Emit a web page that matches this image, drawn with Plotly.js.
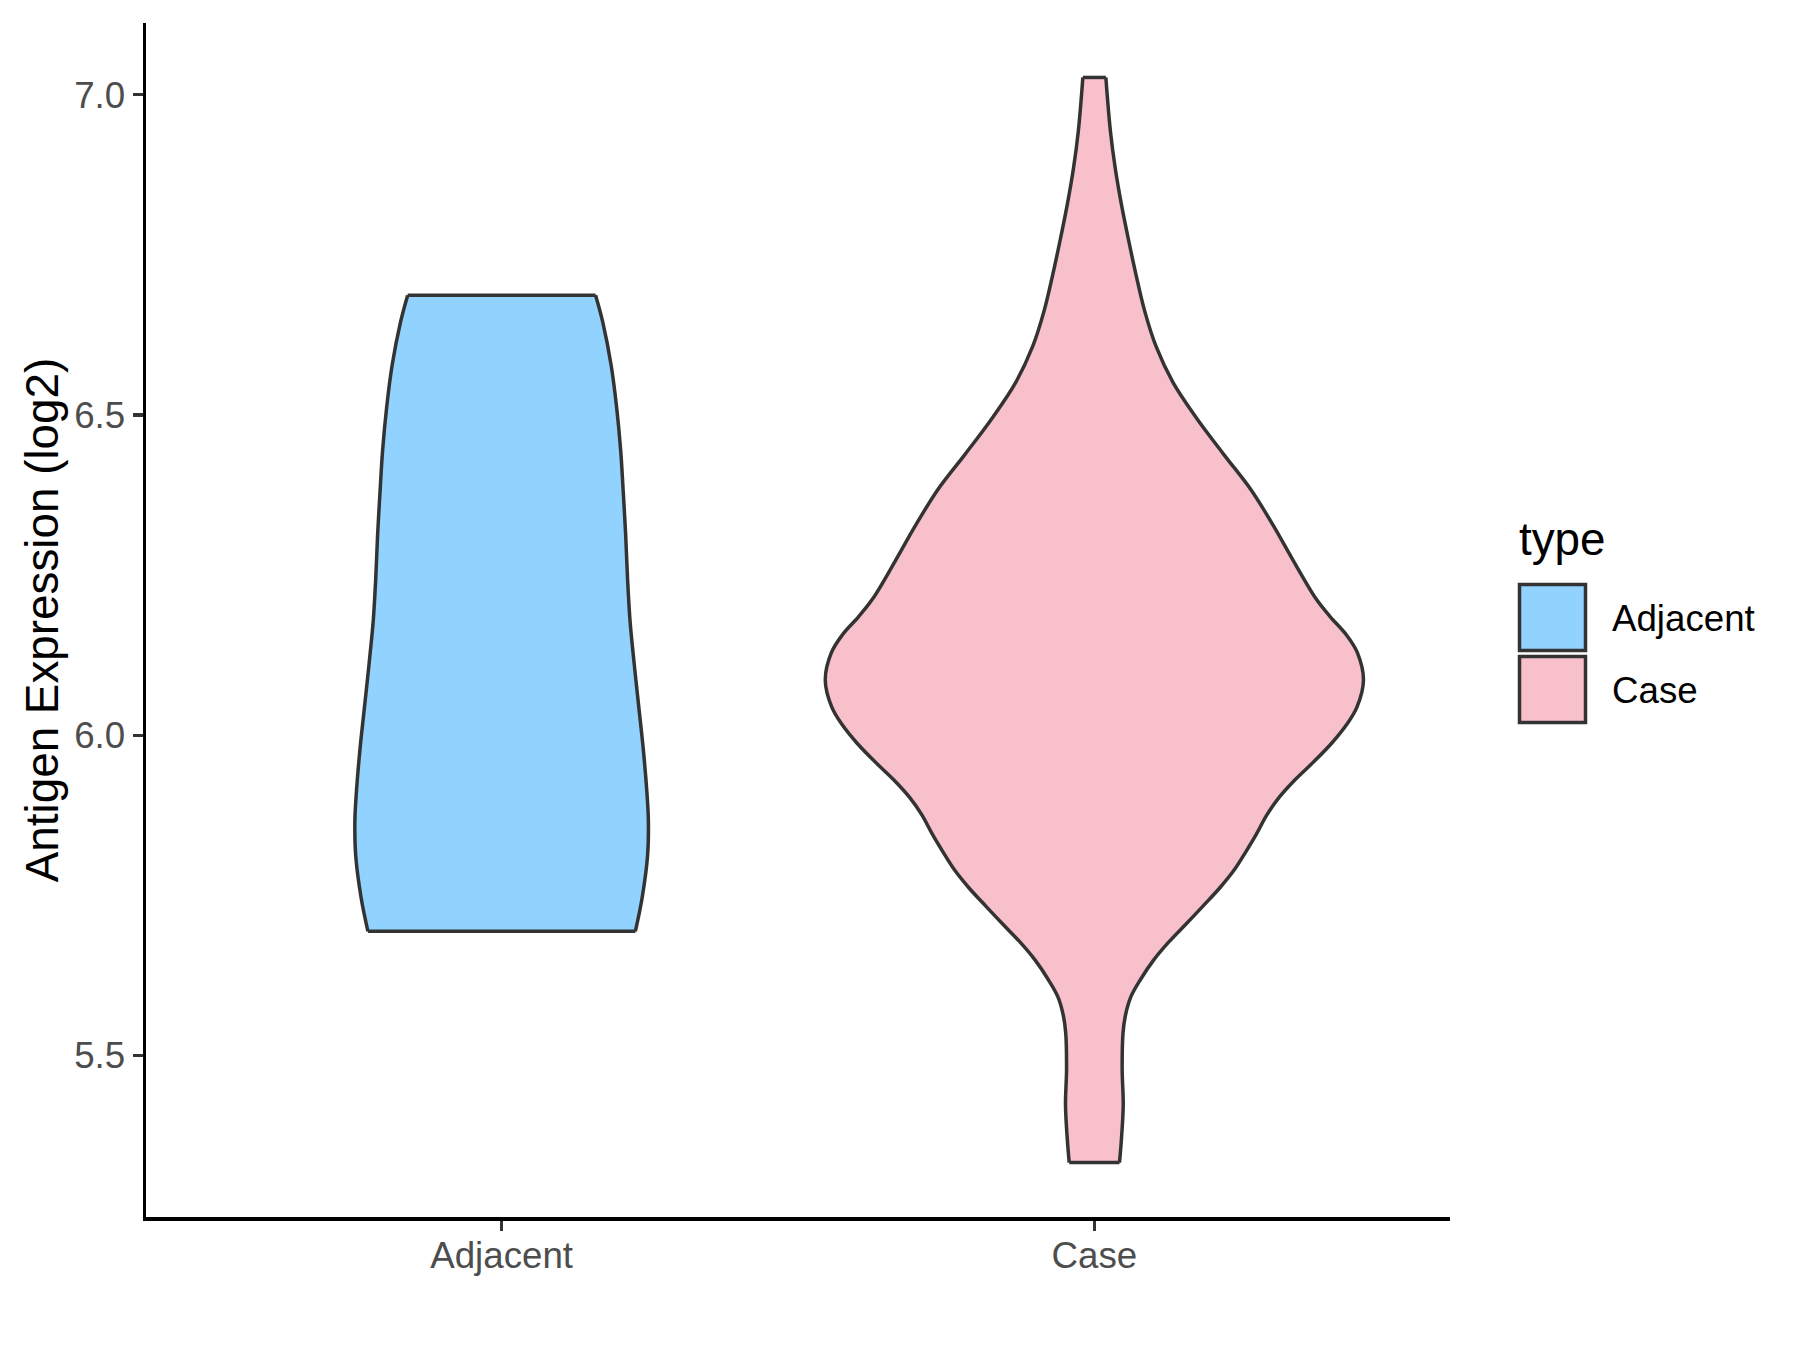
<!DOCTYPE html>
<html>
<head>
<meta charset="utf-8">
<script src="https://cdn.plot.ly/plotly-3.0.1.min.js"></script>
<style>html,body{margin:0;padding:0;background:#fff;}#chart{width:1800px;height:1350px;}</style>
</head>
<body>
<div id="chart"></div>
<script>
// Categories and colours
const categories = ["Adjacent", "Case"];
const fillColors = ["#92D2FE", "#F7C0CB"];

// Violin outline for "Adjacent": expression values (log2) and density half-widths (x units)
const adjacentY = [6.687, 6.645, 6.578, 6.512, 6.445, 6.378, 6.312, 6.245, 6.179, 6.112,
                   6.045, 5.979, 5.912, 5.866, 5.812, 5.746, 5.694];
const adjacentHalfWidth = [0.1585, 0.1706, 0.1847, 0.1940, 0.2008, 0.2053, 0.2093, 0.2124, 0.2166, 0.2236,
                           0.2313, 0.2389, 0.2450, 0.2476, 0.2462, 0.2370, 0.2256];

// Violin outline for "Case"
const caseY = [7.027, 6.998, 6.942, 6.886, 6.830, 6.774, 6.718, 6.663, 6.607, 6.551,
               6.495, 6.439, 6.383, 6.328, 6.272, 6.213, 6.185, 6.157, 6.129, 6.086,
               6.044, 6.016, 5.988, 5.959, 5.931, 5.903, 5.875, 5.846, 5.818, 5.790,
               5.762, 5.733, 5.705, 5.677, 5.649, 5.620, 5.592, 5.564, 5.536, 5.479,
               5.423, 5.366, 5.333];
const caseHalfWidth = [0.0194, 0.0218, 0.0272, 0.0351, 0.0454, 0.0575, 0.0705, 0.0847, 0.1041, 0.1326,
                       0.1725, 0.2179, 0.2645, 0.3015, 0.3360, 0.3740, 0.3980, 0.4250, 0.4437, 0.4540,
                       0.4430, 0.4250, 0.4007, 0.3705, 0.3390, 0.3117, 0.2905, 0.2736, 0.2555, 0.2361,
                       0.2118, 0.1828, 0.1543, 0.1253, 0.0999, 0.0787, 0.0617, 0.0527, 0.0484, 0.0469,
                       0.0487, 0.0454, 0.0424];

// Axis ticks
const yTickVals = [5.5, 6.0, 6.5, 7.0];
const yTickText = ["5.5", "6.0", "6.5", "7.0"];

const FONT = "Liberation Sans, Arial, Helvetica, sans-serif";
const EDGE = "#333333";
const LW = 3.5;

function violinTraces(center, ys, hws, color, name) {
  const n = ys.length;
  // filled body
  const fx = [], fy = [];
  for (let i = 0; i < n; i++) { fx.push(center + hws[i]); fy.push(ys[i]); }
  for (let i = n - 1; i >= 0; i--) { fx.push(center - hws[i]); fy.push(ys[i]); }
  const fill = {
    type: "scatter", mode: "lines", x: fx, y: fy, name: name,
    fill: "toself", fillcolor: color,
    line: {color: color, width: 0, shape: "linear"},
    hoverinfo: "skip", showlegend: false
  };
  // smooth sides
  const rx = ys.map((y, i) => center + hws[i]);
  const lx = ys.map((y, i) => center - hws[i]);
  const right = {type: "scatter", mode: "lines", x: rx, y: ys, line: {color: EDGE, width: LW, shape: "spline", smoothing: 1},
                 hoverinfo: "skip", showlegend: false};
  const left = {type: "scatter", mode: "lines", x: lx, y: ys, line: {color: EDGE, width: LW, shape: "spline", smoothing: 1},
                hoverinfo: "skip", showlegend: false};
  // flat top and bottom
  const caps = {type: "scatter", mode: "lines",
                x: [lx[0], rx[0], null, lx[n - 1], rx[n - 1]],
                y: [ys[0], ys[0], null, ys[n - 1], ys[n - 1]],
                line: {color: EDGE, width: LW, shape: "linear"}, connectgaps: false,
                hoverinfo: "skip", showlegend: false};
  return [fill, right, left, caps];
}

const data = [].concat(
  violinTraces(1, adjacentY, adjacentHalfWidth, fillColors[0], categories[0]),
  violinTraces(2, caseY, caseHalfWidth, fillColors[1], categories[1])
);

// plot area in pixels: x 146..1450, y 23..1217
const L = 146, R = 1450, T = 23, B = 1217;
const px = v => (v - L) / (R - L);
const py = v => (B - v) / (B - T);

const shapes = [
  {type: "rect", xref: "paper", yref: "paper", x0: px(1519.5), x1: px(1585.5), y0: py(650.5), y1: py(584.5),
   fillcolor: fillColors[0], line: {color: EDGE, width: LW}},
  {type: "rect", xref: "paper", yref: "paper", x0: px(1519.5), x1: px(1585.5), y0: py(722.5), y1: py(656.5),
   fillcolor: fillColors[1], line: {color: EDGE, width: LW}}
];

const annotations = [
  {xref: "paper", yref: "paper", x: px(1517), y: py(539), xanchor: "left", yanchor: "middle", showarrow: false,
   text: "type", font: {family: FONT, size: 45.8, color: "#000000"}},
  {xref: "paper", yref: "paper", x: px(1610), y: py(618), xanchor: "left", yanchor: "middle", showarrow: false,
   text: categories[0], font: {family: FONT, size: 36.7, color: "#000000"}},
  {xref: "paper", yref: "paper", x: px(1610), y: py(690), xanchor: "left", yanchor: "middle", showarrow: false,
   text: categories[1], font: {family: FONT, size: 36.7, color: "#000000"}}
];

const layout = {
  width: 1800, height: 1350,
  margin: {l: L, r: 1800 - R, t: T, b: 1350 - B, pad: 0},
  paper_bgcolor: "#ffffff", plot_bgcolor: "#ffffff",
  showlegend: false,
  font: {family: FONT},
  xaxis: {
    range: [0.4, 2.6], tickmode: "array", tickvals: [1, 2], ticktext: categories,
    showgrid: false, zeroline: false, showline: true, linecolor: "#000000", linewidth: LW,
    ticks: "outside", ticklen: 10, tickwidth: LW, tickcolor: EDGE, ticklabelstandoff: -7,
    tickfont: {family: FONT, size: 36.7, color: "#4D4D4D"}, fixedrange: true
  },
  yaxis: {
    range: [5.248, 7.112], tickmode: "array", tickvals: yTickVals, ticktext: yTickText,
    showgrid: false, zeroline: false, showline: true, linecolor: "#000000", linewidth: LW,
    ticks: "outside", ticklen: 10, tickwidth: LW, tickcolor: EDGE,
    tickfont: {family: FONT, size: 36.7, color: "#4D4D4D"},
    title: {text: "Antigen Expression (log2)", font: {family: FONT, size: 45.8, color: "#000000"}, standoff: 2},
    fixedrange: true
  },
  shapes: shapes,
  annotations: annotations
};

Plotly.newPlot("chart", data, layout, {staticPlot: true, displayModeBar: false});
</script>
</body>
</html>
